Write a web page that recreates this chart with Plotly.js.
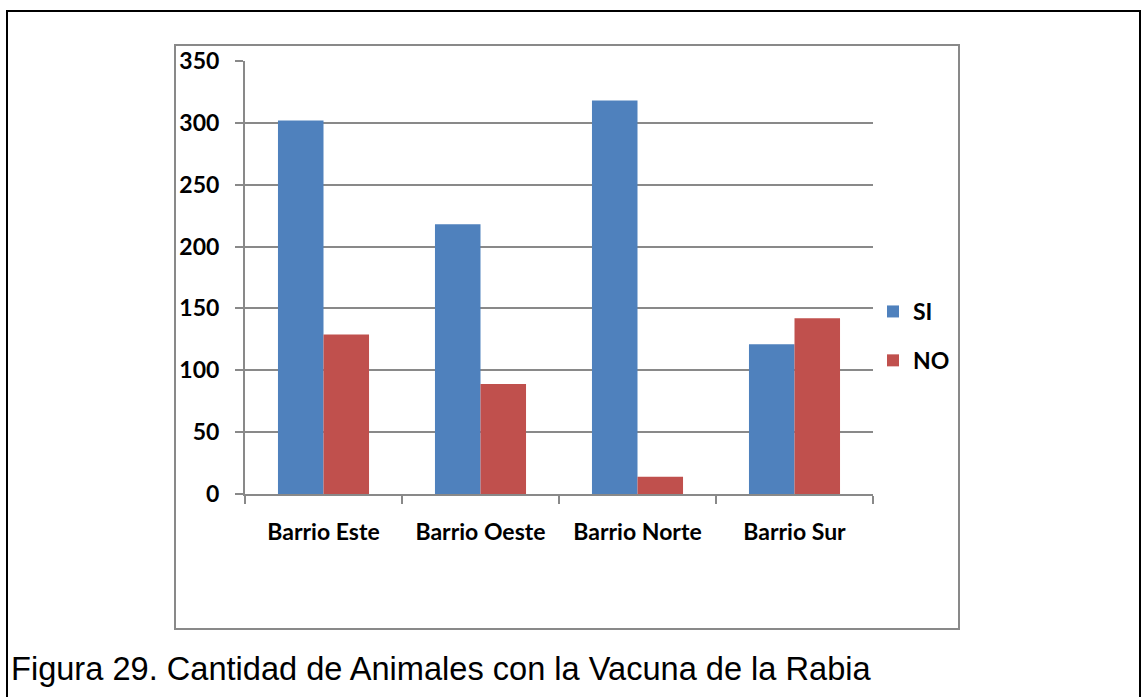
<!DOCTYPE html>
<html>
<head>
<meta charset="utf-8">
<script src="https://cdn.plot.ly/plotly-3.0.1.min.js"></script>
<style>
html,body{margin:0;padding:0;background:#fff;}
#chart{width:1143px;height:697px;}
</style>
</head>
<body>
<div id="chart"></div>
<script>
const categories = ["Barrio Este", "Barrio Oeste", "Barrio Norte", "Barrio Sur"];
const siValues = [302, 218, 318, 121];
const noValues = [129, 89, 14, 142];
const seriesNames = ["SI", "NO"];
const yTicks = [0, 50, 100, 150, 200, 250, 300, 350];
const caption = "Figura 29. Cantidad de Animales con la Vacuna de la Rabia";

const lab = {family: "Lato, 'Open Sans', sans-serif", size: 23, color: "#000", weight: 700};

const data = [
  {type: "bar", name: seriesNames[0], x: categories, y: siValues, marker: {color: "#4F81BD"}, legendgroup: "a"},
  {type: "bar", name: seriesNames[1], x: categories, y: noValues, marker: {color: "#C0504D"}, legendgroup: "b"}
];

// plot area: x 245..873, y 61..494
const W = 628, H = 433;
function px(x){ return (x - 245) / W; }
function py(y){ return (494 - y) / H; }

const layout = {
  width: 1143, height: 697,
  margin: {l: 245, r: 270, t: 61, b: 203, pad: 0},
  paper_bgcolor: "#fff", plot_bgcolor: "#fff",
  barmode: "group", bargap: 0.42, bargroupgap: 0,
  showlegend: true,
  legend: {x: px(873), y: py(336), xanchor: "left", yanchor: "middle",
           font: lab, traceorder: "grouped", tracegroupgap: 16, bgcolor: "rgba(0,0,0,0)"},
  xaxis: {
    type: "category", showline: true, linecolor: "#898989", linewidth: 2,
    ticks: "outside", tickson: "boundaries", ticklen: 8, tickwidth: 2, tickcolor: "#898989",
    tickfont: lab, showgrid: false, ticklabelstandoff: 16, zeroline: false
  },
  yaxis: {
    range: [0, 350], tickvals: yTicks, showline: true, linecolor: "#898989", linewidth: 2,
    ticks: "outside", ticklen: 8, tickwidth: 2, tickcolor: "#898989",
    gridcolor: "#898989", gridwidth: 2, tickfont: lab, zeroline: false,
    ticklabelstandoff: 11
  },
  shapes: [
    {type: "rect", xref: "paper", yref: "paper", x0: px(7), x1: px(1140), y0: py(710), y1: py(11),
     line: {color: "#000", width: 2}, fillcolor: "rgba(0,0,0,0)", layer: "below"},
    {type: "rect", xref: "paper", yref: "paper", x0: px(175), x1: px(959), y0: py(629), y1: py(45),
     line: {color: "#898989", width: 2}, fillcolor: "rgba(0,0,0,0)", layer: "below"}
  ],
  annotations: [
    {text: caption, xref: "paper", yref: "paper", x: px(9), y: py(668), xanchor: "left", yanchor: "middle",
     showarrow: false, font: {family: "'Liberation Sans', Arial, sans-serif", size: 32.6, color: "#000"}}
  ]
};

Plotly.newPlot("chart", data, layout, {displayModeBar: false, staticPlot: true});
</script>
</body>
</html>
